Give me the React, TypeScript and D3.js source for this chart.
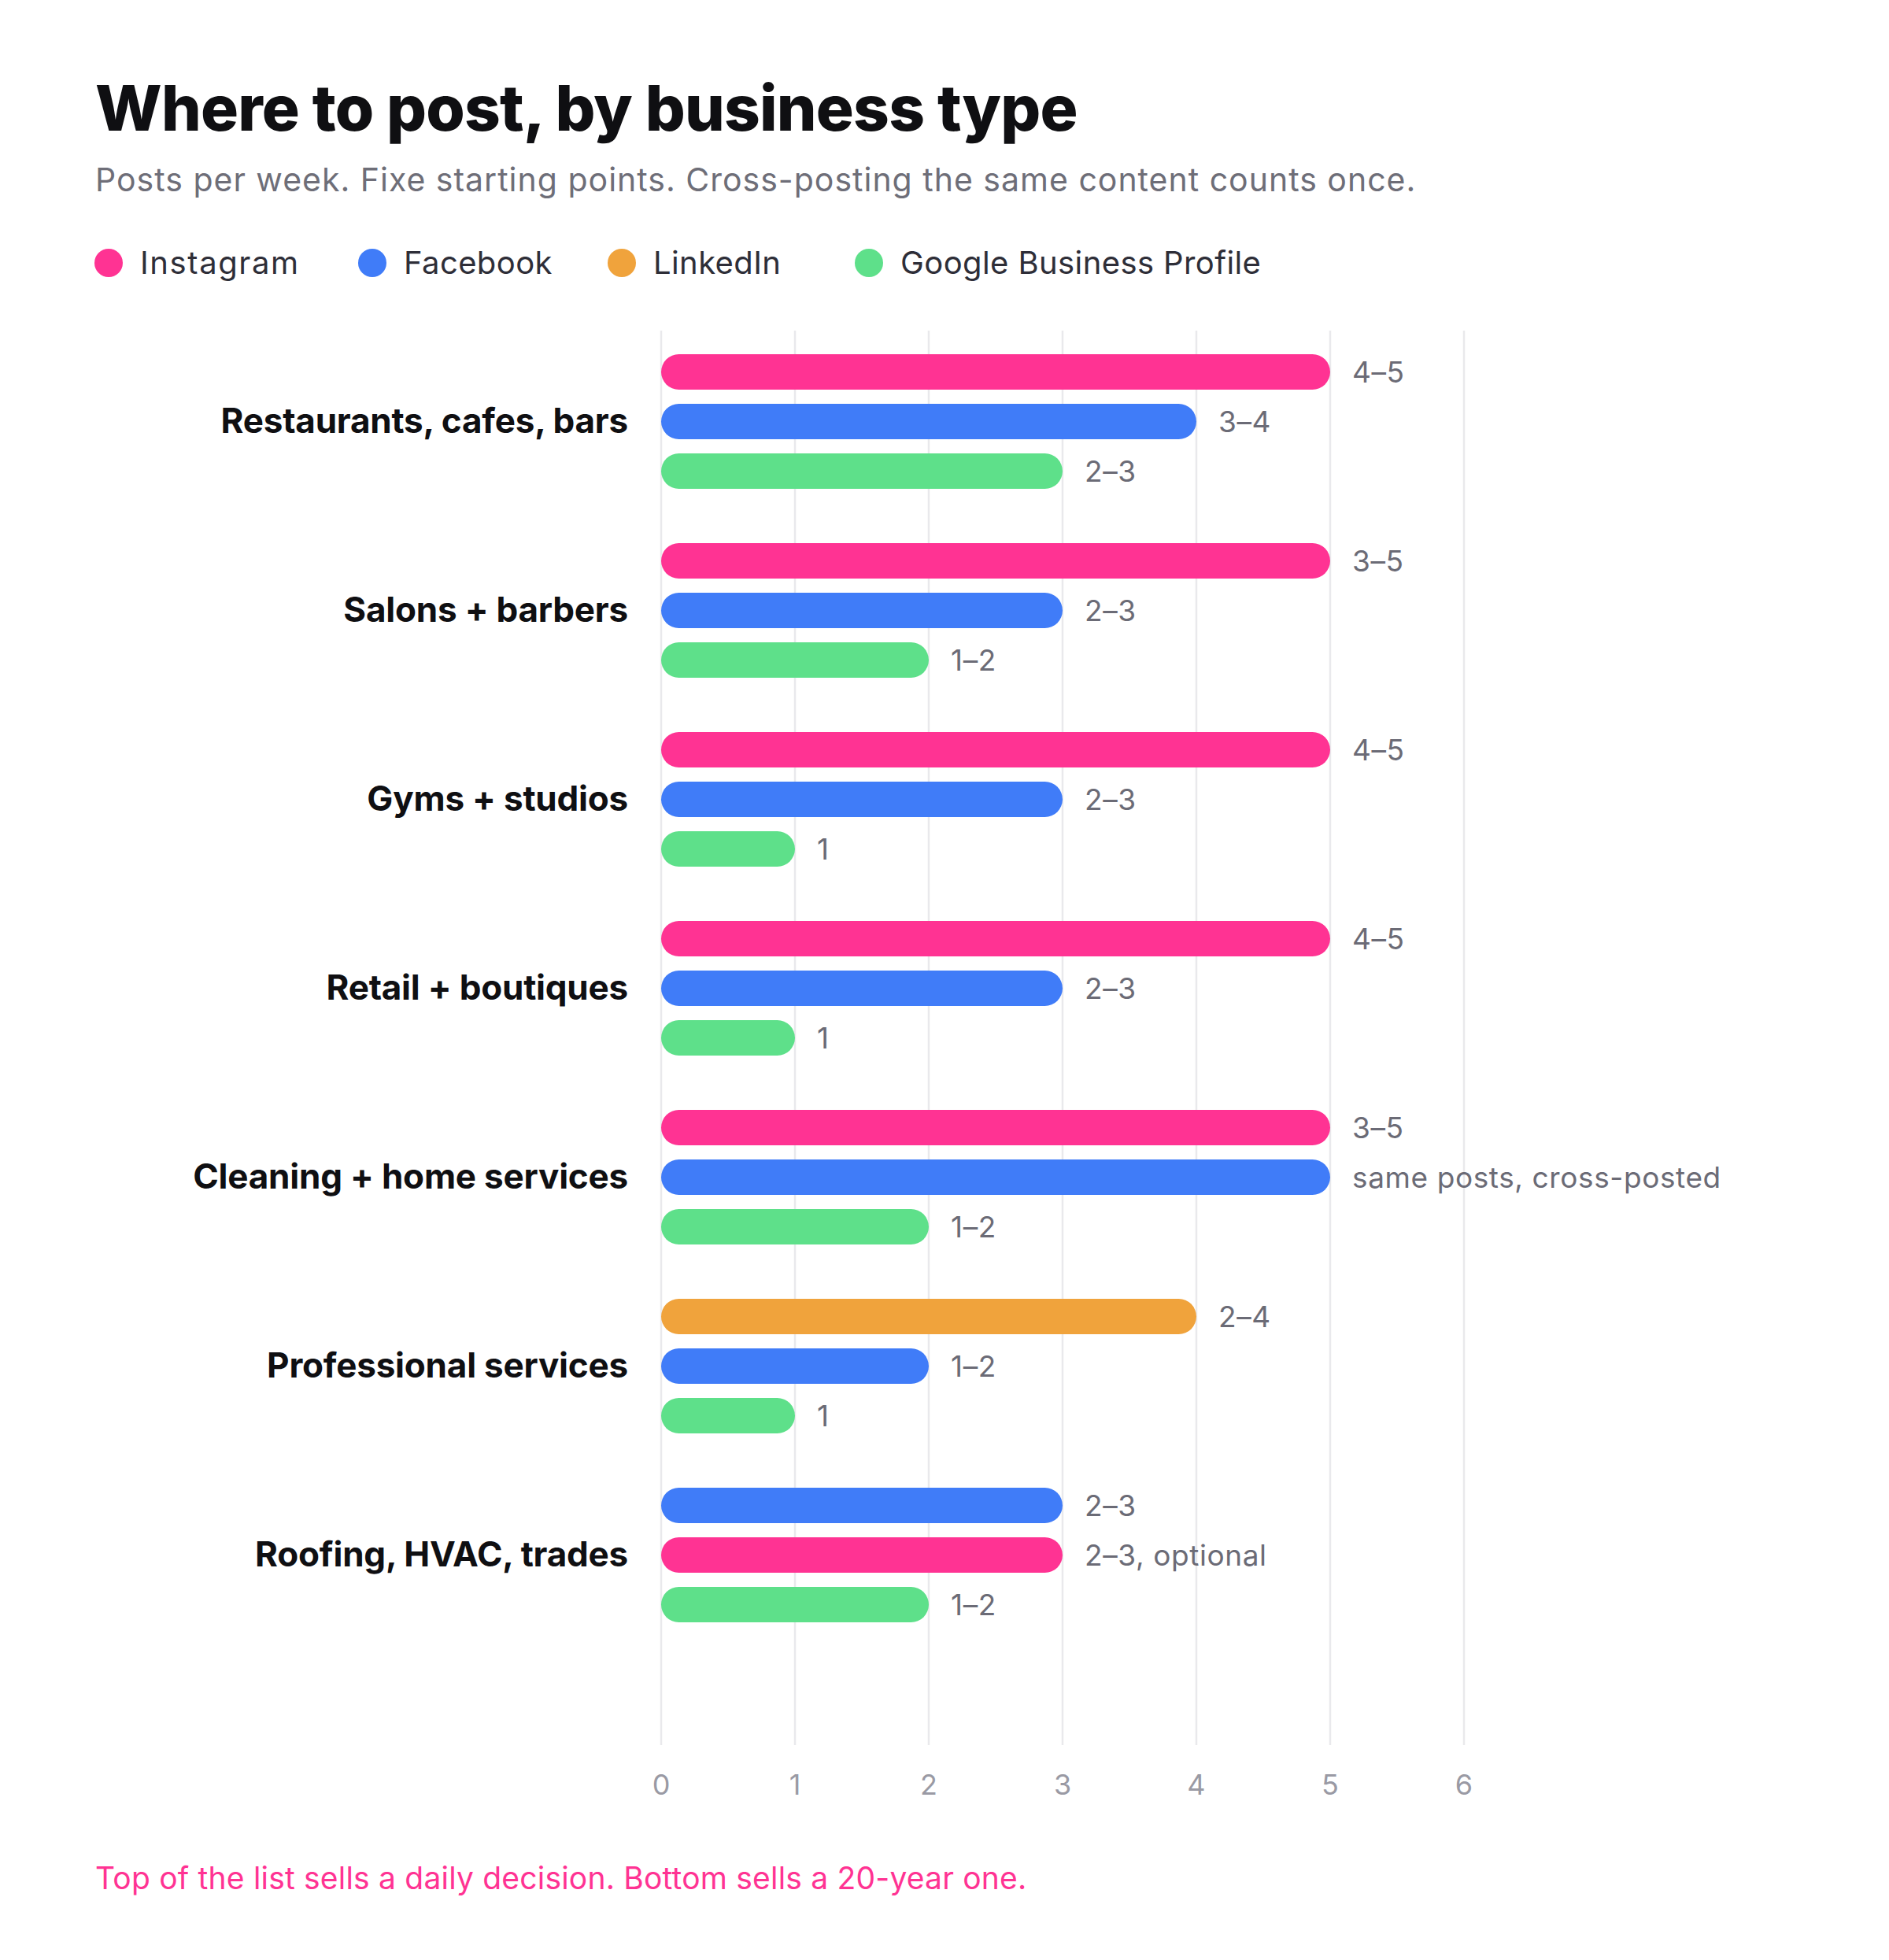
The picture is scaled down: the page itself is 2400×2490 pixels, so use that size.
import React, { useEffect, useRef } from "react";
import * as d3 from "d3";

// Chart data
const CATEGORIES = [
  "Restaurants, cafes, bars",
  "Salons + barbers",
  "Gyms + studios",
  "Retail + boutiques",
  "Cleaning + home services",
  "Professional services",
  "Roofing, HVAC, trades",
];

const PLATFORMS = ["Instagram", "Facebook", "LinkedIn", "Google Business Profile"];
const PLATFORM_COLORS = ["#ff3393", "#407cf8", "#f0a33c", "#5ee08a"];

// three bars per business type, top to bottom
const ROW_PLATFORMS = [
  ["Instagram", "Facebook", "Google Business Profile"],
  ["Instagram", "Facebook", "Google Business Profile"],
  ["Instagram", "Facebook", "Google Business Profile"],
  ["Instagram", "Facebook", "Google Business Profile"],
  ["Instagram", "Facebook", "Google Business Profile"],
  ["LinkedIn", "Facebook", "Google Business Profile"],
  ["Facebook", "Instagram", "Google Business Profile"],
];
const ROW_VALUES = [
  [5, 4, 3],
  [5, 3, 2],
  [5, 3, 1],
  [5, 3, 1],
  [5, 5, 2],
  [4, 2, 1],
  [3, 3, 2],
];
const ROW_LABELS = [
  ["4–5", "3–4", "2–3"],
  ["3–5", "2–3", "1–2"],
  ["4–5", "2–3", "1"],
  ["4–5", "2–3", "1"],
  ["3–5", "same posts, cross-posted", "1–2"],
  ["2–4", "1–2", "1"],
  ["2–3", "2–3, optional", "1–2"],
];
const X_TICKS = [0, 1, 2, 3, 4, 5, 6];

const TITLE = "Where to post, by business type";
const SUBTITLE = "Posts per week. Fixe starting points. Cross-posting the same content counts once.";
const FOOTNOTE = "Top of the list sells a daily decision. Bottom sells a 20-year one.";

const W = 2400;
const H = 2490;
const FONT = "Inter, 'Open Sans', sans-serif";

export default function App() {
  const ref = useRef<SVGSVGElement | null>(null);

  useEffect(() => {
    document.body.style.margin = "0";
    if (!ref.current) return;
    const svg = d3.select(ref.current);
    svg.selectAll("*").remove();

    svg.append("rect").attr("width", W).attr("height", H).attr("fill", "#ffffff");

    const x = d3.scaleLinear().domain([0, 6]).range([840, 1860]);
    const yGroup = d3.scalePoint<string>().domain(CATEGORIES).range([535.5, 535.5 + 6 * 240]);
    const yInner = d3.scalePoint<number>().domain([0, 1, 2]).range([-63, 63]);
    const color = d3.scaleOrdinal<string, string>().domain(PLATFORMS).range(PLATFORM_COLORS);
    const barH = 45;

    // Title block
    svg.append("text")
      .attr("x", 121).attr("y", 166)
      .attr("font-family", FONT).attr("font-size", 80).attr("font-weight", 800)
      .attr("letter-spacing", -0.8)
      .attr("fill", "#0f0f12")
      .text(TITLE);

    svg.append("text")
      .attr("x", 121).attr("y", 243)
      .attr("font-family", FONT).attr("font-size", 41).attr("font-weight", 400)
      .attr("letter-spacing", 1)
      .attr("fill", "#6e6e78")
      .text(SUBTITLE);

    // Legend
    const legendX = [138, 473, 790, 1104];
    const legend = svg.append("g");
    const items = legend.selectAll("g").data(PLATFORMS).enter().append("g")
      .attr("transform", (_d, i) => `translate(${legendX[i]},334)`);
    items.append("circle").attr("r", 18).attr("fill", d => color(d));
    items.append("text")
      .attr("x", 40).attr("y", 14)
      .attr("font-family", FONT).attr("font-size", 40)
      .attr("letter-spacing", (_d, i) => (i === 0 ? 1.6 : 0.4))
      .attr("fill", "#2e2e38")
      .text(d => d);

    // Grid
    const grid = svg.append("g");
    grid.selectAll("line").data(X_TICKS).enter().append("line")
      .attr("x1", d => x(d)).attr("x2", d => x(d))
      .attr("y1", 420).attr("y2", 2217)
      .attr("stroke", "#e9e9ec").attr("stroke-width", 2.5);

    // x axis labels
    svg.append("g").selectAll("text").data(X_TICKS).enter().append("text")
      .attr("x", d => x(d)).attr("y", 2280)
      .attr("text-anchor", "middle")
      .attr("font-family", FONT).attr("font-size", 36)
      .attr("fill", "#9a9aa4")
      .text(d => String(d));

    // Rows
    const rows = svg.append("g").selectAll("g.row").data(CATEGORIES).enter().append("g")
      .attr("class", "row")
      .attr("transform", d => `translate(0,${yGroup(d)})`);

    rows.append("text")
      .attr("x", 798).attr("y", 14)
      .attr("text-anchor", "end")
      .attr("font-family", FONT).attr("font-size", 44).attr("font-weight", 700)
      .attr("letter-spacing", -0.2)
      .attr("fill", "#0f0f12")
      .text(d => d);

    rows.each(function (_cat, ci) {
      const g = d3.select(this);
      const bars = ROW_VALUES[ci].map((v, j) => ({
        v,
        j,
        platform: ROW_PLATFORMS[ci][j],
        label: ROW_LABELS[ci][j],
      }));
      g.selectAll("rect").data(bars).enter().append("rect")
        .attr("x", x(0))
        .attr("y", d => (yInner(d.j) as number) - barH / 2)
        .attr("width", d => x(d.v) - x(0))
        .attr("height", barH)
        .attr("rx", barH / 2)
        .attr("fill", d => color(d.platform));
      g.selectAll("text.val").data(bars).enter().append("text")
        .attr("class", "val")
        .attr("x", d => x(d.v) + 28)
        .attr("y", d => (yInner(d.j) as number) + 13)
        .attr("font-family", FONT).attr("font-size", 37)
        .attr("letter-spacing", 0.6)
        .attr("fill", "#6b6b76")
        .text(d => d.label);
    });

    // Footnote
    svg.append("text")
      .attr("x", 121).attr("y", 2400)
      .attr("font-family", FONT).attr("font-size", 39)
      .attr("letter-spacing", 0.2)
      .attr("fill", "#ff3393")
      .text(FOOTNOTE);
  }, []);

  return <svg ref={ref} width={W} height={H} style={{ display: "block" }} />;
}
